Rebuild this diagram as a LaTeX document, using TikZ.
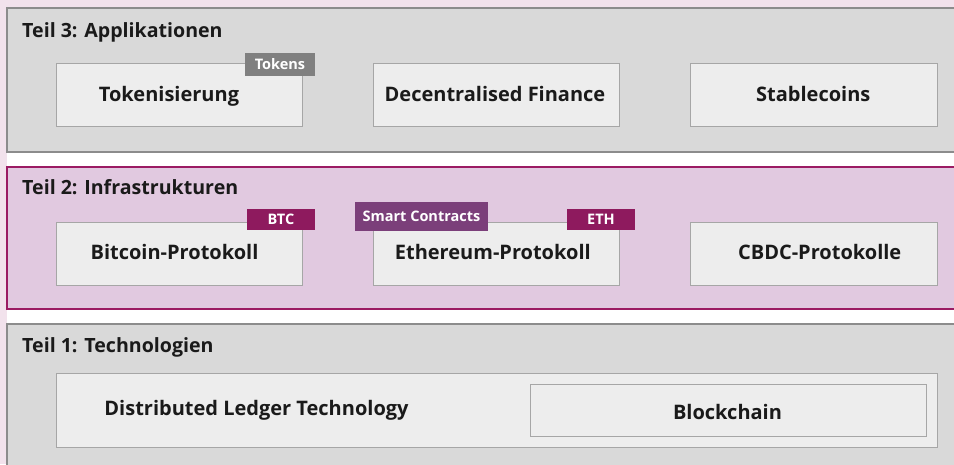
\documentclass[tikz,border=0pt]{standalone}
\usepackage{fontspec}
\setmainfont{Open Sans}
\definecolor{bgpink}{HTML}{F2E2EC}
\definecolor{panelgray}{HTML}{D9D9D9}
\definecolor{panelgrayline}{HTML}{8C8C8C}
\definecolor{panelpink}{HTML}{E1C9E0}
\definecolor{panelpinkline}{HTML}{9B1B63}
\definecolor{boxfill}{HTML}{EDEDED}
\definecolor{boxline}{HTML}{A6A6A6}
\definecolor{taggray}{HTML}{808080}
\definecolor{tagpurple}{HTML}{7B3F7A}
\definecolor{tagmagenta}{HTML}{8E1A5E}
\definecolor{txt}{HTML}{1A1A1A}
\begin{document}
\begin{tikzpicture}[x=1pt,y=-1pt,
  graypanel/.style={draw=panelgrayline,fill=panelgray,line width=2pt},
  pinkpanel/.style={draw=panelpinkline,fill=panelpink,line width=2pt},
  title/.style={anchor=base west,inner sep=0pt,font=\bfseries\fontsize{19.6}{22}\selectfont,text=txt},
  itembox/.style={draw=boxline,fill=boxfill,line width=1pt,inner sep=0pt},
  itemtext/.style={anchor=base,inner sep=0pt,font=\bfseries\fontsize{20}{22}\selectfont,text=txt},
  tag/.style={inner sep=0pt,text=white,text height=10.4pt,text depth=0pt,
     font=\bfseries\fontsize{14.5}{16}\selectfont}
]
\useasboundingbox (0,0) rectangle (954,464);
\fill[bgpink] (0,0) rectangle (954,464);
\fill[white] (7,8) rectangle (954,464);
% panels
\draw[graypanel] (7,8) rectangle (960,152);
\draw[pinkpanel] (7,167) rectangle (960,309);
\draw[graypanel] (7,324) rectangle (960,470);
% titles
\node[title] (t3) at (22,37.7) {Teil 3: Applikationen};
\node[title] (t2) at (22,194.7) {Teil 2: Infrastrukturen};
\node[title] (t1) at (22,352.7) {Teil 1: Technologien};
% Teil 3
\node[itembox,minimum width=246pt,minimum height=63pt] (tok) at (179,94.5) {};
\node[itembox,minimum width=246pt,minimum height=63pt] (defi) at (496,94.5) {};
\node[itembox,minimum width=247pt,minimum height=63pt] (stab) at (813.5,94.5) {};
\node[itemtext] (tokt) at (169,101.5) {Tokenisierung};
\node[itemtext] (defit) at (495,101.5) {Decentralised Finance};
\node[itemtext] (stabt) at (813.3,101.5) {Stablecoins};
\node[tag,fill=taggray,minimum width=70pt,minimum height=23pt] (tokens) at (280,64.5) {Tokens};
% Teil 2
\node[itembox,minimum width=246pt,minimum height=63pt] (btcp) at (179,253.5) {};
\node[itembox,minimum width=246pt,minimum height=63pt] (ethp) at (496,253.5) {};
\node[itembox,minimum width=247pt,minimum height=63pt] (cbdc) at (813.5,253.5) {};
\node[itemtext] (btcpt) at (174.5,259.7) {Bitcoin-Protokoll};
\node[itemtext] (ethpt) at (492.8,259.7) {Ethereum-Protokoll};
\node[itemtext] (cbdct) at (819.7,259.7) {CBDC-Protokolle};
\node[tag,fill=tagmagenta,minimum width=68pt,minimum height=21pt] (btc) at (281,219.3) {BTC};
\node[tag,fill=tagpurple,minimum width=133pt,minimum height=29pt] (sc) at (421.5,216.5) {Smart Contracts};
\node[tag,fill=tagmagenta,minimum width=68pt,minimum height=21pt] (eth) at (601,219.5) {ETH};
% Teil 1
\node[itembox,minimum width=881pt,minimum height=74pt] (dlt) at (496.5,410) {};
\node[itemtext] (dltt) at (256.5,415) {Distributed Ledger Technology};
\node[itembox,minimum width=396pt,minimum height=52pt] (bc) at (728,410) {};
\node[itemtext] (bct) at (727.5,419) {Blockchain};
\end{tikzpicture}
\end{document}
